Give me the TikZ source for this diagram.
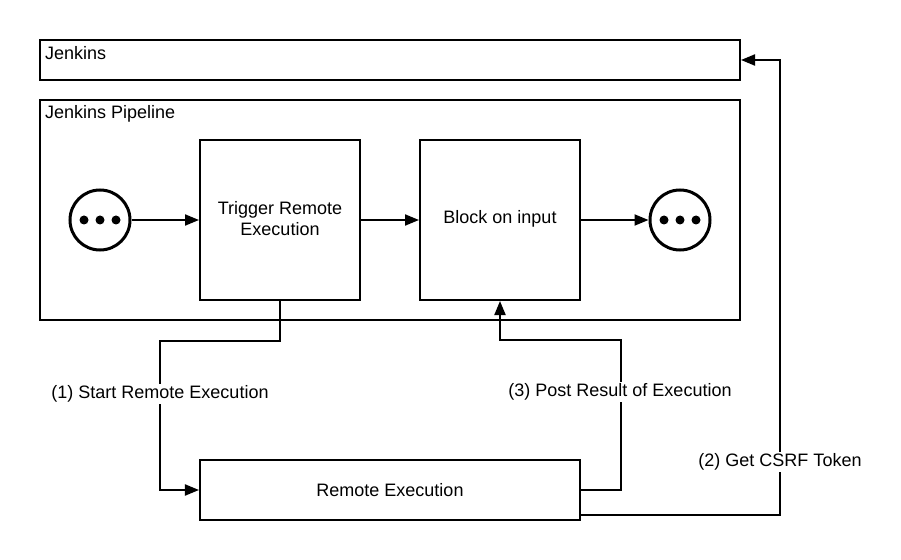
\documentclass[tikz,border=0pt]{standalone}
\usepackage{fontspec}
\setmainfont{Liberation Sans}
\usetikzlibrary{arrows.meta}
\begin{document}
\begin{tikzpicture}[x=1bp,y=-1bp,
  every node/.style={font=\fontsize{18bp}{21bp}\selectfont},
  box/.style={draw,line width=2bp,inner sep=0pt,align=center},
  conn/.style={line width=2bp},
  arr/.style={conn,-{Triangle[length=14bp,width=11bp]}},
  lab/.style={fill=white,inner sep=2bp},
  dotcirc/.style={draw,circle,line width=3bp,minimum size=60bp,inner sep=0pt}]
\useasboundingbox (0,0) rectangle (901,560);
\node[box,minimum width=700bp,minimum height=40bp] (jenkins) at (390,60) {};
\node[anchor=west,inner sep=0pt] (jlab) at (45,53) {Jenkins};
\node[box,minimum width=700bp,minimum height=220bp] (pipe) at (390,210) {};
\node[anchor=west,inner sep=0pt] (plab) at (45,114) {Jenkins Pipeline};
\node[dotcirc] (start) at (100,220) {};
\foreach \dx in {-16,0,16} \fill ([xshift=\dx bp]start.center) circle (4.5bp);
\node[box,minimum width=160bp,minimum height=160bp] (trig) at (280,220) {};
\node (tlab) at (280,219) [align=center] {Trigger Remote\\Execution};
\node[box,minimum width=160bp,minimum height=160bp] (block) at (500,220) {};
\node (blab) at (500,219) {Block on input};
\node[dotcirc] (end) at (680,220) {};
\foreach \dx in {-16,0,16} \fill ([xshift=\dx bp]end.center) circle (4.5bp);
\node[box,minimum width=380bp,minimum height=60bp] (remote) at (390,490) {};
\node (rlab) at (390,490) {Remote Execution};
\coordinate (csrf) at ([yshift=-25bp]remote.east);
\draw[arr] (start) -- (trig);
\draw[arr] (trig) -- (block);
\draw[arr] (block) -- (end);
\draw[arr] (trig.south) -- ++(0,40) -| (160,490) -- (remote.west);
\draw[arr] (remote.east) -- ++(40,0) |- (500,340) -- (block.south);
\draw[arr] (csrf) -| (780,60) -- (jenkins.east);
\node[lab] (l1) at (160,394) {(1) Start Remote Execution};
\node[lab] (l3) at (620,392) {(3) Post Result of Execution};
\node[lab] (l2) at (780,462) {(2) Get CSRF Token};
\end{tikzpicture}
\end{document}
